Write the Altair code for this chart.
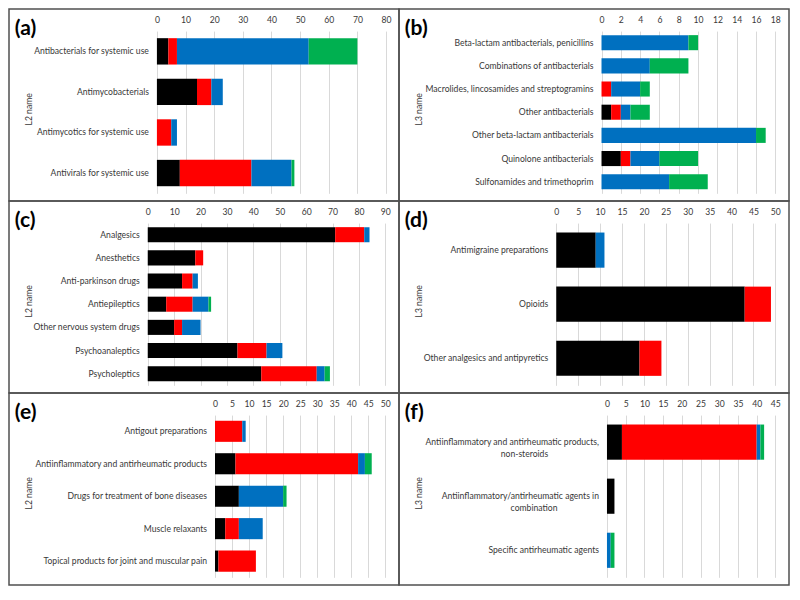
import json
import altair as alt
import pandas as pd

# ---------------- data ----------------
SERIES = ["s1", "s2", "s3", "s4"]
COLORS = ["#000000", "#FF0000", "#0070C0", "#00B050"]

a_cats = ["Antibacterials for systemic use", "Antimycobacterials",
          "Antimycotics for systemic use", "Antivirals for systemic use"]
a_s1 = [4, 14, 0, 8]
a_s2 = [3, 5, 5, 25]
a_s3 = [46, 4, 2, 14]
a_s4 = [17, 0, 0, 1]

b_cats = ["Beta-lactam antibacterials, penicillins", "Combinations of antibacterials",
          "Macrolides, lincosamides and streptogramins", "Other antibacterials",
          "Other beta-lactam antibacterials", "Quinolone antibacterials",
          "Sulfonamides and trimethoprim"]
b_s1 = [0, 0, 0, 1, 0, 2, 0]
b_s2 = [0, 0, 1, 1, 0, 1, 0]
b_s3 = [9, 5, 3, 1, 16, 3, 7]
b_s4 = [1, 4, 1, 2, 1, 4, 4]

c_cats = ["Analgesics", "Anesthetics", "Anti-parkinson drugs", "Antiepileptics",
          "Other nervous system drugs", "Psychoanaleptics", "Psycholeptics"]
c_s1 = [71, 18, 13, 7, 10, 34, 43]
c_s2 = [11, 3, 4, 10, 3, 11, 21]
c_s3 = [2, 0, 2, 6, 7, 6, 3]
c_s4 = [0, 0, 0, 1, 0, 0, 2]

d_cats = ["Antimigraine preparations", "Opioids", "Other analgesics and antipyretics"]
d_s1 = [9, 43, 19]
d_s2 = [0, 6, 5]
d_s3 = [2, 0, 0]
d_s4 = [0, 0, 0]

e_cats = ["Antigout preparations", "Antiinflammatory and antirheumatic products",
          "Drugs for treatment of bone diseases", "Muscle relaxants",
          "Topical products for joint and muscular pain"]
e_s1 = [0, 6, 7, 3, 1]
e_s2 = [8, 36, 0, 4, 11]
e_s3 = [1, 2, 13, 7, 0]
e_s4 = [0, 2, 1, 0, 0]

f_cats = ["Antiinflammatory and antirheumatic products,\nnon-steroids",
          "Antiinflammatory/antirheumatic agents in\ncombination",
          "Specific antirheumatic agents"]
f_s1 = [4, 2, 0]
f_s2 = [36, 0, 0]
f_s3 = [1, 0, 1]
f_s4 = [1, 0, 1]

# ---------------- layout ----------------
W, H = 390, 192
SX, SY = W / 400, H / 200
YT, YB = 23 * SY, 192 * SY
FONT = "Lato"
FS = 8.6
TC = "#383838"


def em_pad(ems):
    n = int(ems)
    r = round((ems - n) * 6)
    # word joiner at the end keeps the spaces from hanging past the line end
    return "\u2003" * n + "\u2006" * r + "\u2060"


# second lines of wrapped labels are centred under the first line (in em units)
WRAP_PAD = {
    f_cats[0]: 7.7,
    f_cats[1]: 6.4,
}


def label_expr(cats):
    expr = "datum.label"
    for c in cats:
        if "\n" in c:
            l1, l2 = c.split("\n")
            l2 = l2 + em_pad(WRAP_PAD.get(c, 0))
            arr = "[" + json.dumps(l1, ensure_ascii=False) + ", " + json.dumps(l2, ensure_ascii=False) + "]"
            expr = "datum.value == " + json.dumps(c, ensure_ascii=False) + " ? " + arr + " : (" + expr + ")"
    return expr


def panel(letter, cats, series_vals, xmax, step, x0_ref, x1_ref, ytitle):
    rows = []
    for ci, c in enumerate(cats):
        for si, s in enumerate(SERIES):
            v = series_vals[si][ci]
            if v > 0:
                rows.append({"cat": c, "series": s, "ord": si, "value": v})
    df = pd.DataFrame(rows)
    x0, x1 = x0_ref * SX, x1_ref * SX
    bars = alt.Chart(df).mark_bar().encode(
        y=alt.Y("cat:N", sort=cats,
                scale=alt.Scale(range=[YT, YB], paddingInner=0.35, paddingOuter=0.175),
                axis=alt.Axis(orient="left", offset=-x0, labelPadding=8.5, ticks=False,
                              domain=False, grid=False, labelLimit=500, labelFont=FONT,
                              labelFontSize=FS, labelColor=TC, labelLineHeight=12,
                              labelExpr=label_expr(cats),
                              title=ytitle, titleFont=FONT, titleFontSize=FS,
                              titleFontWeight="normal", titleColor=TC, titleAngle=270,
                              titleBaseline="middle", titleAlign="center",
                              titleX=20 * SX - x0, titleY=104 * SY)),
        x=alt.X("value:Q", stack="zero",
                scale=alt.Scale(domain=[0, xmax], range=[x0, x1], nice=False),
                axis=alt.Axis(orient="top", offset=-YT, values=list(range(0, xmax + 1, step)),
                              ticks=False, domain=False, grid=True, gridColor="#D9D9D9",
                              gridWidth=1, labelFont=FONT, labelFontSize=FS, labelColor=TC,
                              labelPadding=7, labelFlush=False, labelOverlap=False,
                              title=None)),
        color=alt.Color("series:N", scale=alt.Scale(domain=SERIES, range=COLORS), legend=None),
        order=alt.Order("ord:Q"),
    )
    lab = alt.Chart(pd.DataFrame({"t": [letter]})).mark_text(
        font=FONT, fontSize=21, fontWeight="bold", align="left", baseline="middle",
        color="#000000"
    ).encode(text="t:N", x=alt.value(6 * SX), y=alt.value(20.5 * SY))
    return alt.layer(bars, lab).properties(width=W, height=H)


pa = panel("(a)", a_cats, [a_s1, a_s2, a_s3, a_s4], 80, 10, 151.7, 386.7, "L2 name")
pb = panel("(b)", b_cats, [b_s1, b_s2, b_s3, b_s4], 18, 2, 207.7, 386.0, "L3 name")
pc = panel("(c)", c_cats, [c_s1, c_s2, c_s3, c_s4], 90, 10, 142.3, 386.0, "L2 name")
pd_ = panel("(d)", d_cats, [d_s1, d_s2, d_s3, d_s4], 50, 5, 161.3, 386.0, "L3 name")
pe = panel("(e)", e_cats, [e_s1, e_s2, e_s3, e_s4], 50, 5, 211.3, 386.0, "L2 name")
pf = panel("(f)", f_cats, [f_s1, f_s2, f_s3, f_s4], 45, 5, 213.3, 386.0, "L3 name")

chart = alt.concat(
    pa, pb, pc, pd_, pe, pf, columns=2, spacing=0, bounds="flush",
).properties(padding=0).configure_view(stroke="#505050", strokeWidth=1.5)

chart.save("out.html", embed_options={"renderer": "svg", "actions": False})
